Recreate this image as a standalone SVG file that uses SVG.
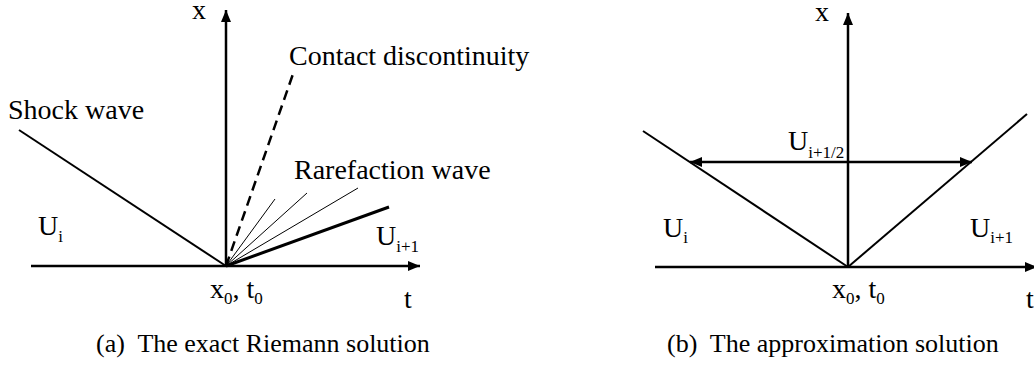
<svg xmlns="http://www.w3.org/2000/svg" width="1034" height="365" viewBox="0 0 1034 365">
<style>
.t{font-family:"Liberation Serif","Times New Roman",serif;fill:#000}
.lb{font-size:28px}
.sub{font-size:17px}
.cap{font-size:26px}
.ax{stroke:#000;stroke-width:2.5;fill:none}
.w{stroke:#000;stroke-width:2;fill:none}
.thin{stroke:#000;stroke-width:1;fill:none}
.thick{stroke:#000;stroke-width:3;fill:none}
.dash{stroke:#000;stroke-width:2.5;fill:none;stroke-dasharray:10 6}
</style>
<defs>
<marker id="ah" viewBox="0 0 12 10" refX="12" refY="5" markerWidth="12" markerHeight="10" markerUnits="userSpaceOnUse" orient="auto-start-reverse">
<path d="M0,0 L12,5 L0,10 Z" fill="#000"/>
</marker>
</defs>
<g id="connectors">
<line class="ax" x1="31" y1="266" x2="420" y2="266" marker-end="url(#ah)"/>
<line class="ax" x1="226" y1="266" x2="226" y2="10" marker-end="url(#ah)"/>
<line class="w" x1="19" y1="130" x2="226" y2="266"/>
<line class="dash" x1="226" y1="266" x2="293" y2="74"/>
<line class="thin" x1="226" y1="266" x2="275" y2="199"/>
<line class="thin" x1="226" y1="266" x2="307" y2="193"/>
<line class="thin" x1="226" y1="266" x2="358" y2="188"/>
<line class="thick" x1="226" y1="266" x2="389" y2="207"/>
<line class="ax" x1="655" y1="267" x2="1037" y2="267" marker-end="url(#ah)"/>
<line class="ax" x1="848" y1="267" x2="848" y2="13" marker-end="url(#ah)"/>
<line class="w" x1="643" y1="131" x2="848" y2="267"/>
<line class="w" x1="848" y1="267" x2="1027" y2="114"/>
<line class="ax" x1="690" y1="162" x2="972" y2="162" marker-start="url(#ah)" marker-end="url(#ah)"/>
</g>
<g id="panel-a-labels">
<text class="t lb" x="192" y="19">x</text>
<text class="t lb" x="289" y="65">Contact discontinuity</text>
<text class="t lb" x="8" y="119">Shock wave</text>
<text class="t lb" x="294" y="179">Rarefaction wave</text>
<text class="t lb" x="38" y="235">U<tspan class="sub" dy="7">i</tspan></text>
<text class="t lb" x="376" y="245">U<tspan class="sub" dy="7">i+1</tspan></text>
<text class="t lb" x="210" y="298">x<tspan class="sub" dy="6">0</tspan><tspan dy="-6">, t</tspan><tspan class="sub" dy="6">0</tspan></text>
<text class="t lb" x="404" y="308">t</text>
<text class="t cap" x="96" y="352" xml:space="preserve">(a)  The exact Riemann solution</text>
</g>
<g id="panel-b-labels">
<text class="t lb" x="815" y="21">x</text>
<text class="t lb" x="788" y="150">U<tspan class="sub" dy="8">i+1/2</tspan></text>
<text class="t lb" x="663" y="237">U<tspan class="sub" dy="6">i</tspan></text>
<text class="t lb" x="970" y="237">U<tspan class="sub" dy="6">i+1</tspan></text>
<text class="t lb" x="832" y="298">x<tspan class="sub" dy="6">0</tspan><tspan dy="-6">, t</tspan><tspan class="sub" dy="6">0</tspan></text>
<text class="t lb" x="1026" y="308">t</text>
<text class="t cap" x="667" y="352" xml:space="preserve">(b)  The approximation solution</text>
</g>
</svg>
